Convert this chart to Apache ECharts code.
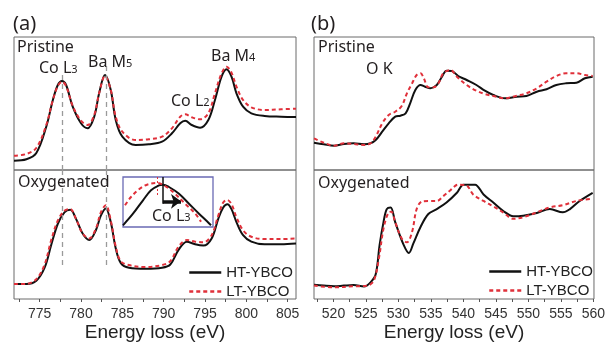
<!DOCTYPE html>
<html>
<head>
<meta charset="utf-8">
<script src="https://cdn.jsdelivr.net/npm/echarts@6/dist/echarts.min.js"></script>
<style>
  html, body { margin: 0; padding: 0; background: #fff; }
  #chart { width: 608px; height: 343px; }
</style>
</head>
<body>
<div id="chart"></div>
<script>
// (a) Co L / Ba M edges, energies in eV, intensity in arbitrary units
var aPriEnergy = [771.9, 773.4, 774.6, 775.8, 776.6, 777.2, 777.7, 778.2, 779.0, 780.0, 780.8, 781.6, 782.2, 782.9, 783.6, 784.2, 785.0, 786.6, 788.2, 789.8, 791.0, 792.0, 792.6, 793.4, 794.4, 795.4, 796.2, 797.0, 797.6, 798.2, 798.8, 799.6, 800.6, 802.2, 804.2, 806.0];
var aPriHT = [9.3, 10.7, 17, 43.3, 70, 85, 89, 85, 63.3, 46.7, 41.7, 53.3, 77, 95, 80, 50, 33.3, 25, 25.7, 28.3, 36.7, 46.7, 49.3, 45, 42.3, 50, 70, 93.3, 100.7, 93.3, 76.7, 63.3, 56.7, 54, 53.3, 53];
var aPriLT = [14.3, 16, 22, 45, 70, 84, 88.3, 84, 64, 49.3, 45, 55, 77, 94, 80, 53.3, 38.3, 30, 30.7, 33.3, 41.7, 53.3, 55.7, 52.7, 50.7, 56.7, 76.7, 96.7, 103.3, 97.3, 83.3, 70, 62.7, 60, 60.7, 61.3];

var aOxyEnergy = [771.9, 773.4, 774.6, 775.6, 776.4, 777.2, 778.0, 778.7, 779.4, 780.2, 781.0, 781.8, 782.4, 783.0, 783.6, 784.2, 784.8, 785.8, 787.8, 789.8, 790.8, 791.8, 792.8, 793.8, 794.8, 795.8, 796.6, 797.2, 797.7, 798.2, 798.8, 799.6, 800.6, 802.2, 804.2, 806.0];
var aOxyHT = [15.3, 15.3, 18.7, 32, 55.3, 77, 88.7, 91.3, 82, 67, 60.3, 70.3, 85.3, 92.7, 78.7, 52, 37, 32, 31, 32, 35.3, 50.3, 58.7, 56, 54.7, 62, 82, 93.7, 97, 92, 78.7, 65.3, 58.7, 56, 56, 56.7];
var aOxyLT = [15.3, 15.5, 20.3, 35.3, 60.3, 80.3, 90.3, 92, 82, 67, 62, 72, 88.7, 96, 80.3, 53.7, 38.7, 34.7, 32.7, 34.7, 38.7, 53.7, 60.3, 58.7, 58, 65.3, 85.3, 98.7, 101.3, 97, 83.7, 70.3, 63.7, 61.3, 61.3, 62];

// inset: zoom on the oxygenated Co L3 peak
var insetEnergyHT = [776.7, 777.2, 777.7, 778.1, 778.5, 778.7, 779.0, 779.5, 780.0, 780.5, 780.9, 781.1];
var insetHT = [1.7, 13.3, 26.7, 36.7, 41.7, 42.3, 40, 33.3, 23.3, 13.3, 5.7, 1.7];
var insetEnergyLT = [776.8, 777.1, 777.5, 777.9, 778.4, 778.8, 779.3, 779.8, 780.3, 780.6];
var insetLT = [21.7, 30, 37.7, 42.3, 44, 41, 33.3, 23.3, 13.7, 5.3];

// (b) O K edge
var bPriEnergyHT = [517.0, 518.5, 520.1, 521.6, 523.1, 524.7, 525.7, 526.5, 527.5, 528.5, 529.5, 530.3, 531.1, 531.8, 532.6, 533.4, 534.1, 534.9, 535.9, 536.7, 537.4, 538.2, 539.2, 540.5, 542.0, 543.3, 544.6, 546.4, 548.2, 549.7, 551.3, 552.8, 554.3, 555.8, 557.4, 558.7, 559.9];
var bPriHT = [27.3, 25.7, 24.3, 26, 26.7, 25.7, 26.7, 30, 38.3, 46.7, 53.3, 54.3, 56.7, 66.7, 80, 85, 83.3, 81.7, 85, 93.3, 99.3, 99, 94, 90, 85, 79.3, 75, 71.7, 73.3, 74, 78.3, 80.7, 85, 86.7, 87.3, 91.7, 93.3];
var bPriEnergyLT = [517.0, 518.5, 520.1, 521.6, 523.1, 524.7, 525.7, 526.5, 527.5, 528.5, 529.5, 530.5, 531.3, 532.1, 532.8, 533.4, 533.9, 534.6, 535.4, 536.2, 536.9, 538.0, 539.0, 540.5, 542.0, 543.3, 544.6, 546.4, 548.2, 549.7, 551.3, 552.8, 554.3, 555.8, 557.4, 558.7, 559.9];
var bPriLT = [31.7, 27.3, 24.3, 26.7, 26, 25, 26.7, 33.3, 46.7, 55, 58.3, 64, 76.7, 86.7, 95, 96.7, 91.7, 82.7, 82.7, 87.3, 96.7, 100, 93.3, 85, 79.3, 76, 74, 71.7, 74.3, 76.7, 81.7, 88.3, 94, 96.7, 96.7, 95, 94];

var bOxyEnergyHT = [517.0, 518.5, 520.1, 521.6, 523.1, 524.7, 525.7, 526.5, 527.1, 527.7, 528.2, 528.8, 529.5, 530.8, 531.6, 532.3, 533.4, 534.6, 535.9, 537.4, 539.0, 540.0, 541.1, 541.8, 543.1, 544.6, 546.1, 547.7, 549.2, 551.3, 553.3, 555.3, 556.4, 557.9, 559.9];
var bOxyHT = [14.7, 13.7, 13, 13.7, 14.3, 12.7, 17, 25.3, 55.3, 78.7, 92, 93.7, 78.7, 55.3, 47, 57, 73.7, 87, 92, 98.7, 108.7, 117, 117, 117, 107, 98.7, 90.3, 84.7, 85.3, 88, 92, 88.7, 92, 100.3, 108.7];
var bOxyEnergyLT = [517.0, 520.1, 523.1, 525.2, 526.2, 527.0, 527.7, 528.5, 528.9, 529.5, 530.5, 531.3, 532.1, 532.8, 533.6, 534.6, 535.9, 536.9, 538.0, 539.2, 540.5, 541.5, 543.1, 544.6, 546.1, 547.7, 549.2, 551.3, 553.3, 555.3, 557.4, 559.9];
var bOxyLT = [13.7, 12, 13, 13.7, 18.7, 42, 72, 88.7, 89.3, 78.7, 62, 58, 68.7, 92, 99.7, 100.3, 100.3, 105.3, 111.3, 117, 116, 107, 100.3, 94.7, 88.7, 82, 83.7, 88.7, 93.7, 96, 100.3, 102.7];

// tick positions
var aTickLabels = [775, 780, 785, 790, 795, 800, 805];
var aTicks = [772.5, 775, 777.5, 780, 782.5, 785, 787.5, 790, 792.5, 795, 797.5, 800, 802.5, 805];
var bTickLabels = [520, 525, 530, 535, 540, 545, 550, 555, 560];
var bTicks = [517.5, 520, 522.5, 525, 527.5, 530, 532.5, 535, 537.5, 540, 542.5, 545, 547.5, 550, 552.5, 555, 557.5, 560];

// reference energies (dashed guides) and peak shift in the inset
var guideCoL3 = 777.7;
var guideBaM5 = 783.0;
var insetPeakHT = 778.7;
var insetPeakLT = 778.4;

function pairs(xs, ys) {
  return xs.map(function (x, i) { return [x, ys[i]]; });
}

var BLACK = "#111111";
var RED = "#e0303a";
var FRAME = "#6b6b6b";
var TXT = "#231f20";
var ANNO_FONT = "Noto Sans";
var AXIS_FONT = "Liberation Sans";

function htLine(grid, data) {
  return {
    name: "HT-YBCO", type: "line", xAxisIndex: grid, yAxisIndex: grid,
    data: data, symbol: "none", smooth: 0.35,
    lineStyle: { color: BLACK, width: 2 }, itemStyle: { color: BLACK },
    silent: true, z: 3
  };
}
function ltLine(grid, data) {
  return {
    name: "LT-YBCO", type: "line", xAxisIndex: grid, yAxisIndex: grid,
    data: data, symbol: "none", smooth: 0.35,
    lineStyle: { color: RED, width: 2, type: [4, 3] }, itemStyle: { color: RED },
    silent: true, z: 4
  };
}

var guideStyle = { color: "#9a9a9a", width: 1.3, type: [5, 4] };

function bottomAxis(grid, min, max, ticks, labels) {
  return {
    type: "value", gridIndex: grid, min: min, max: max,
    axisLine: { show: false },
    axisTick: { show: true, inside: false, length: 3, customValues: ticks, lineStyle: { color: "#555", width: 1 } },
    axisLabel: { customValues: labels, margin: 8, fontSize: 14, color: "#333", fontFamily: AXIS_FONT, showMaxLabel: true, showMinLabel: true },
    splitLine: { show: false },
    name: "Energy loss (eV)", nameLocation: "middle", nameGap: 24,
    nameTextStyle: { fontSize: 19, color: "#222", fontFamily: AXIS_FONT }
  };
}
function hiddenX(grid, min, max) {
  return { type: "value", gridIndex: grid, min: min, max: max, show: false };
}
function hiddenY(grid, min, max) {
  return { type: "value", gridIndex: grid, min: min, max: max, show: false };
}

function legendAt(left, top) {
  return {
    left: left, top: top, orient: "vertical", itemWidth: 32, itemHeight: 14, itemGap: 4,
    data: ["HT-YBCO", "LT-YBCO"], selectedMode: false,
    itemStyle: { opacity: 0 },
    lineStyle: { width: 2.5 },
    textStyle: { fontSize: 15, color: "#222", fontFamily: AXIS_FONT }
  };
}

function label(x, y, main, sub, size) {
  var text = sub ? "{m|" + main + "}{s|" + sub + "}" : "{m|" + main + "}";
  return {
    type: "text", x: x, y: y, silent: true, z: 20,
    style: {
      text: text, verticalAlign: "middle", align: "left", fill: TXT,
      rich: {
        m: { fontSize: size || 16, fontFamily: ANNO_FONT, color: TXT },
        s: { fontSize: 11, fontFamily: ANNO_FONT, color: TXT, padding: [4, 0, 0, 0] }
      }
    }
  };
}

var chart = echarts.init(document.getElementById("chart"), null, { renderer: "canvas" });

chart.setOption({
  backgroundColor: "#fff",
  animation: false,
  grid: [
    { left: 14, top: 37, width: 282, height: 133, show: true, borderColor: FRAME, borderWidth: 1 },
    { left: 14, top: 170, width: 282, height: 132, show: true, borderColor: FRAME, borderWidth: 1 },
    { left: 314, top: 37, width: 280, height: 133, show: true, borderColor: FRAME, borderWidth: 1 },
    { left: 314, top: 170, width: 280, height: 132, show: true, borderColor: FRAME, borderWidth: 1 },
    { left: 123, top: 177, width: 90, height: 50, show: true, borderColor: "#6a6ab4", borderWidth: 1.3, backgroundColor: "#fff", z: 5 }
  ],
  xAxis: [
    hiddenX(0, 771.9, 806),
    bottomAxis(1, 771.9, 806, aTicks, aTickLabels),
    hiddenX(2, 517, 560.1),
    bottomAxis(3, 517, 560.1, bTicks, bTickLabels),
    hiddenX(4, 776.7, 781.2)
  ],
  yAxis: [
    hiddenY(0, 0, 133),
    hiddenY(1, 0, 132),
    hiddenY(2, 0, 133),
    hiddenY(3, 0, 132),
    hiddenY(4, 0, 50)
  ],
  legend: [legendAt(183, 260), legendAt(483, 259)],
  series: [
    Object.assign(htLine(0, pairs(aPriEnergy, aPriHT)), {
      markLine: {
        silent: true, symbol: ["none", "none"], label: { show: false }, lineStyle: guideStyle,
        data: [
          [{ coord: [guideCoL3, 0] }, { coord: [guideCoL3, 98] }],
          [{ coord: [guideBaM5, 0] }, { coord: [guideBaM5, 105] }]
        ]
      }
    }),
    ltLine(0, pairs(aPriEnergy, aPriLT)),
    Object.assign(htLine(1, pairs(aOxyEnergy, aOxyHT)), {
      markLine: {
        silent: true, symbol: ["none", "none"], label: { show: false }, lineStyle: guideStyle,
        data: [
          [{ coord: [guideCoL3, 132] }, { coord: [guideCoL3, 33] }],
          [{ coord: [guideBaM5, 132] }, { coord: [guideBaM5, 33] }]
        ]
      }
    }),
    ltLine(1, pairs(aOxyEnergy, aOxyLT)),
    htLine(2, pairs(bPriEnergyHT, bPriHT)),
    ltLine(2, pairs(bPriEnergyLT, bPriLT)),
    htLine(3, pairs(bOxyEnergyHT, bOxyHT)),
    ltLine(3, pairs(bOxyEnergyLT, bOxyLT)),
    Object.assign(htLine(4, pairs(insetEnergyHT, insetHT)), {
      z: 8,
      markLine: {
        silent: true, symbol: ["none", "none"], label: { show: false },
        lineStyle: { color: BLACK, width: 1.5, type: "solid" },
        data: [
          [{ coord: [insetPeakHT, 50] }, { coord: [insetPeakHT, 23.3] }],
          [
            { coord: [insetPeakHT, 25.7], symbol: "none", lineStyle: { width: 3.5 } },
            { coord: [779.6, 25.7], symbol: "arrow", symbolSize: [11, 10], lineStyle: { width: 3.5 } }
          ]
        ]
      }
    }),
    Object.assign(ltLine(4, pairs(insetEnergyLT, insetLT)), {
      z: 9,
      markLine: {
        silent: true, symbol: ["none", "none"], label: { show: false },
        lineStyle: { color: RED, width: 1, type: [2, 2] },
        data: [
          [{ coord: [insetPeakLT, 50] }, { coord: [insetPeakLT, 31] }]
        ]
      }
    })
  ],
  graphic: [
    label(13, 24, "(a)", null, 20),
    label(311, 24, "(b)", null, 20),
    label(17, 47, "Pristine"),
    label(318, 47, "Pristine"),
    label(18, 182, "Oxygenated"),
    label(318, 183, "Oxygenated"),
    label(39, 68, "Co L", "3"),
    label(88, 62, "Ba M", "5"),
    label(171, 101, "Co L", "2"),
    label(211, 56, "Ba M", "4"),
    label(366, 69, "O K"),
    label(152, 216, "Co L", "3")
  ]
});
</script>
</body>
</html>
